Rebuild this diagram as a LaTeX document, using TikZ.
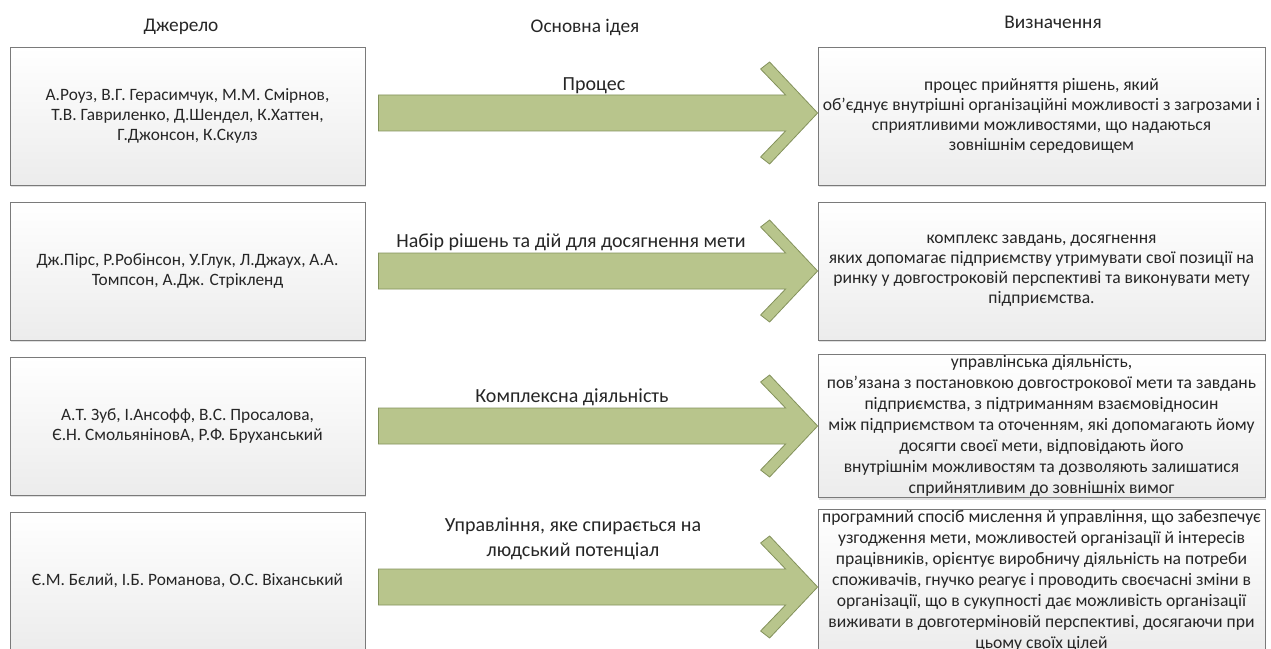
\documentclass[tikz,border=0pt]{standalone}
\usepackage{fontspec}
\setmainfont{Carlito}
\usetikzlibrary{calc,shadows}
\definecolor{arrowgreen}{HTML}{B8C58C}
\definecolor{arrowedge}{HTML}{84925C}
\definecolor{boxedge}{HTML}{7A7A7A}
\definecolor{inkgray}{HTML}{262626}
\tikzset{
  cell/.style={draw=boxedge,line width=0.6pt,top color=white,bottom color=gray!15,
    drop shadow={shadow xshift=1.1pt,shadow yshift=-1.3pt,fill=black,opacity=0.12},
    minimum height=103.5pt,inner sep=1pt,align=center,text=inkgray},
  srcbox/.style={cell,minimum width=266.25pt,font=\fontsize{13}{15}\selectfont},
  defbox/.style={cell,minimum width=335.25pt},
  blockarrow/.style={fill=arrowgreen,draw=arrowedge,line width=0.6pt,line join=miter},
  headtext/.style={font=\fontsize{14.5}{16}\selectfont,text=inkgray},
  ideatext/.style={font=\fontsize{15}{18.75}\selectfont,align=center,text=inkgray,inner sep=0pt}
}
\begin{document}
\begin{tikzpicture}[x=0.75pt,y=-0.75pt]
\useasboundingbox (0,0) rectangle (1271,649);
\fill[white] (0,0) rectangle (1271,649);
% ---- column heads ----
\node[headtext] (hsrc) at (181,27) {Джерело};
\node[headtext] (hidea) at (585,27) {Основна ідея};
\node[headtext] (hdef) at (1053,22) {Визначення};
% ---- source boxes (left column) ----
\foreach \r/\y/\txt in {
  1/116/{А.Роуз, В.Г. Герасимчук, М.М. Смірнов,\\Т.В. Гавриленко, Д.Шендел, К.Хаттен,\\Г.Джонсон, К.Скулз},
  2/271/{Дж.Пірс, Р.Робінсон, У.Глук, Л.Джаух, А.А.\\Томпсон, А.Дж. Стрікленд},
  3/426/{А.Т. Зуб, І.Ансофф, В.С. Просалова,\\Є.Н. СмольяніновА, Р.Ф. Бруханський},
  4/581/{Є.М. Бєлий, І.Б. Романова, О.С. Віханський}%
}{
  \node[srcbox] (src\r) at (187.5,\y) {\txt};
}
% ---- definition boxes (right column) ----
\foreach \r/\y/\ls/\txt in {
  1/116/15/{процес прийняття рішень, який\\об’єднує внутрішні організаційні можливості з загрозами і\\сприятливими можливостями, що надаються\\зовнішнім середовищем},
  2/271/15/{комплекс завдань, досягнення\\яких допомагає підприємству утримувати свої позиції на\\ринку у довгостроковій перспективі та виконувати мету\\підприємства.},
  3/426/15.75/{управлінська діяльність,\\пов’язана з постановкою довгострокової мети та завдань\\підприємства, з підтриманням взаємовідносин\\між підприємством та оточенням, які допомагають йому\\досягти своєї мети, відповідають його\\внутрішнім можливостям та дозволяють залишатися\\сприйнятливим до зовнішніх вимог},
  4/581/15.75/{програмний спосіб мислення й управління, що забезпечує\\узгодження мети, можливостей організації й інтересів\\працівників, орієнтує виробничу діяльність на потреби\\споживачів, гнучко реагує і проводить своєчасні зміни в\\організації, що в сукупності дає можливість організації\\виживати в довготерміновій перспективі, досягаючи при\\цьому своїх цілей}%
}{
  \node[defbox,font=\fontsize{13.2}{\ls}\selectfont] (def\r) at (1041.5,\y) {\txt};
}
% ---- block arrows from source to definition ----
\foreach \r/\dy in {1/-3,2/0,3/0,4/6}{
  \draw[blockarrow] ($(def\r.west)+(0,\dy)$) -- ($(def\r.west)+(-48,\dy-51)$) -- ($(def\r.west)+(-57,\dy-44)$)
    -- ($(def\r.west)+(-32,\dy-18)$) -- ($(src\r.east)+(13,\dy-18)$) -- ($(src\r.east)+(13,\dy+18)$)
    -- ($(def\r.west)+(-32,\dy+18)$) -- ($(def\r.west)+(-57,\dy+44)$) -- ($(def\r.west)+(-48,\dy+51)$) -- cycle;
}
% ---- main idea labels over the arrows ----
\node[ideatext] (idea1) at (594,86) {Процес};
\node[ideatext] (idea2) at (571,242) {Набір рішень та дій для досягнення мети};
\node[ideatext] (idea3) at (572,397) {Комплексна діяльність};
\node[ideatext] (idea4) at (573,539) {Управління, яке спирається на\\людський потенціал};
\end{tikzpicture}
\end{document}
